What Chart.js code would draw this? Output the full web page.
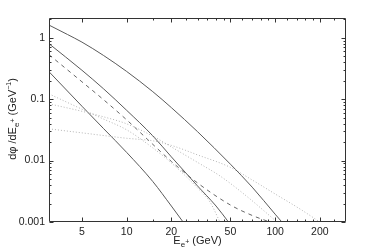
<!DOCTYPE html>
<html>
<head>
<meta charset="utf-8">
<script src="https://cdn.jsdelivr.net/npm/chart.js@4.4.0/dist/chart.umd.min.js"></script>
<style>
html,body{margin:0;padding:0;background:#fff;}
</style>
</head>
<body>
<canvas id="myChart" width="382" height="251"></canvas>
<script>
// energies (GeV) and flux values, one pair per curve
const eSolid1 = [3, 4, 5, 7, 10, 15, 20, 30, 50, 70, 100, 111];
const fSolid1 = [1.61, 1.13, 0.85, 0.514, 0.283, 0.1325, 0.0729, 0.0296, 0.00873, 0.0037, 0.00134, 0.001];

const eSolid2 = [3, 5, 7, 10, 15, 20, 30, 40, 48.5];
const fSolid2 = [0.80, 0.296, 0.147, 0.0659, 0.0253, 0.0115, 0.00387, 0.00182, 0.001];

const eSolid3 = [3, 5, 7, 10, 15, 20, 24];
const fSolid3 = [0.28, 0.0768, 0.0331, 0.0136, 0.00456, 0.00182, 0.001];

const eDash = [3, 5, 7, 10, 15, 20, 30, 50, 70, 92];
const fDash = [0.53, 0.192, 0.0978, 0.0461, 0.0184, 0.0097, 0.00433, 0.00189, 0.00128, 0.001];

const eDot1 = [3, 5, 7, 10, 15, 20, 30, 36.4, 42.5];
const fDot1 = [0.122, 0.0687, 0.0474, 0.0317, 0.0161, 0.00917, 0.00359, 0.00212, 0.001];

const eDot2 = [3, 5, 7, 10, 15.9, 20, 30, 42.5, 62.7, 103];
const fDot2 = [0.0841, 0.0635, 0.0516, 0.0397, 0.0232, 0.0167, 0.00935, 0.00563, 0.00276, 0.001];

const eDot3 = [3, 5, 10, 15, 20, 30, 50, 70, 100, 147, 200];
const fDot3 = [0.0329, 0.0283, 0.0231, 0.0210, 0.0177, 0.0124, 0.00775, 0.00484, 0.00286, 0.00163, 0.001];

// tick values
const xLabels = [5, 10, 20, 50, 100, 200];
const xMinor = [15, 25, 30, 35, 40, 45, 60, 70, 80, 90, 120, 140, 160, 180, 250];
const yLabels = [0.001, 0.01, 0.1, 1];

const FONT = "'Liberation Sans', Arial, sans-serif";

function pts(es, fs){
    return es.map((e, i) => ({x: e, y: fs[i]}));
}

function line(es, fs, color, dash){
    return {
        data: pts(es, fs),
        borderColor: color,
        borderWidth: 1,
        borderDash: dash,
        pointRadius: 0,
        fill: false,
        cubicInterpolationMode: 'monotone'
    };
}

// frame, inside ticks on all four sides, axis titles
const framePlugin = {
    id: 'frame',
    afterDraw(chart){
        const ctx = chart.ctx;
        const a = chart.chartArea;
        const xs = chart.scales.x, ys = chart.scales.y;
        const L = Math.round(a.left) + 0.5, R = Math.round(a.right) - 0.5;
        const T = Math.round(a.top) + 0.5, B = Math.round(a.bottom) - 0.5;
        ctx.save();
        ctx.strokeStyle = '#333';
        ctx.lineWidth = 1;
        ctx.beginPath();
        ctx.rect(L, T, R - L, B - T);
        ctx.stroke();

        ctx.beginPath();
        const xt = [];
        xLabels.forEach(v => xt.push([v, 4]));
        xMinor.forEach(v => xt.push([v, 2]));
        xt.forEach(([v, len]) => {
            const p = Math.round(xs.getPixelForValue(v)) + 0.5;
            ctx.moveTo(p, B); ctx.lineTo(p, B - len);
            ctx.moveTo(p, T); ctx.lineTo(p, T + len);
        });
        for (let d = -3; d <= 0; d++){
            for (let k = 1; k <= 9; k++){
                const v = k * Math.pow(10, d);
                if (v > ys.max) break;
                const len = k === 1 ? 4 : 2;
                const p = Math.round(ys.getPixelForValue(v)) + 0.5;
                ctx.moveTo(L, p); ctx.lineTo(L + len, p);
                ctx.moveTo(R, p); ctx.lineTo(R - len, p);
            }
        }
        ctx.stroke();

        // x title: E_{e+} (GeV)
        ctx.fillStyle = '#222';
        ctx.textBaseline = 'alphabetic';
        ctx.textAlign = 'left';
        const big = '11px ' + FONT, small = '8px ' + FONT, tiny = '7px ' + FONT;
        ctx.font = big; const wE = ctx.measureText('E').width;
        ctx.font = small; const we = ctx.measureText('e').width;
        ctx.font = tiny; const wp = ctx.measureText('+').width;
        ctx.font = big; const wG = ctx.measureText(' (GeV)').width;
        const total = wE + we + wp + wG;
        let x0 = (a.left + a.right) / 2 - total / 2;
        const by = 244;
        ctx.font = big; ctx.fillText('E', x0, by); x0 += wE;
        ctx.font = small; ctx.fillText('e', x0, by + 3); x0 += we;
        ctx.font = tiny; ctx.fillText('+', x0, by); x0 += wp;
        ctx.font = big; ctx.fillText(' (GeV)', x0, by);

        // y title: dφ /dE_{e+} (GeV^-1)
        ctx.save();
        ctx.translate(16, 119);
        ctx.rotate(-Math.PI / 2);
        const parts = [
            ['dφ /dE', big, 0],
            ['e', small, 3],
            ['+', tiny, -1],
            [' (GeV', big, 0],
            ['−1', tiny, -5],
            [')', big, 0]
        ];
        let w = 0;
        parts.forEach(p => { ctx.font = p[1]; w += ctx.measureText(p[0]).width; });
        let px = -w / 2;
        parts.forEach(p => {
            ctx.font = p[1];
            ctx.fillText(p[0], px, p[2]);
            px += ctx.measureText(p[0]).width;
        });
        ctx.restore();
        ctx.restore();
    }
};

const ctx = document.getElementById('myChart');
const myChart = new Chart(ctx, {
    type: 'line',
    data: {
        datasets: [
            line(eDot3, fDot3, '#b4b4b4', [1, 2]),
            line(eDot2, fDot2, '#b4b4b4', [1, 2]),
            line(eDot1, fDot1, '#b4b4b4', [1, 2]),
            line(eDash, fDash, '#666', [4, 4]),
            line(eSolid3, fSolid3, '#5a5a5a', []),
            line(eSolid2, fSolid2, '#5a5a5a', []),
            line(eSolid1, fSolid1, '#5a5a5a', [])
        ]
    },
    options: {
        responsive: false,
        animation: false,
        devicePixelRatio: 1,
        layout: {padding: {top: 18, right: 36, left: 0, bottom: 0}},
        plugins: {legend: {display: false}, tooltip: {enabled: false}},
        scales: {
            x: {
                type: 'logarithmic',
                min: 3, max: 300,
                grid: {display: false, drawTicks: false},
                border: {display: false},
                afterFit: s => { s.height = 29; },
                afterBuildTicks: s => { s.ticks = xLabels.map(v => ({value: v})); },
                ticks: {
                    autoSkip: false, maxRotation: 0, padding: 4,
                    color: '#222', font: {family: FONT, size: 10.5},
                    callback: v => String(v)
                }
            },
            y: {
                type: 'logarithmic',
                min: 0.001, max: 2.1,
                grid: {display: false, drawTicks: false},
                border: {display: false},
                afterFit: s => { s.width = 49; },
                afterBuildTicks: s => { s.ticks = yLabels.map(v => ({value: v})); },
                ticks: {
                    autoSkip: false, padding: 4,
                    color: '#222', font: {family: FONT, size: 10.5},
                    callback: v => String(v)
                }
            }
        }
    },
    plugins: [framePlugin]
});
</script>
</body>
</html>
